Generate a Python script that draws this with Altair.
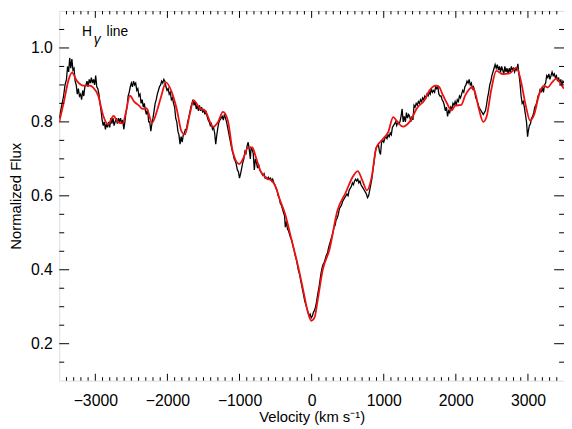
import altair as alt
import pandas as pd

obs_v = [-3500, -3480, -3460, -3440, -3420, -3400, -3385, -3370, -3355, -3340, -3325, -3310, -3295, -3280,
         -3265, -3250, -3235, -3220, -3205, -3190, -3175, -3160, -3145, -3130, -3115, -3100, -3085, -3070,
         -3055, -3040, -3025, -3010, -2995, -2980, -2965, -2950, -2935, -2920, -2905, -2890, -2875, -2860,
         -2845, -2830, -2815, -2800, -2785, -2770, -2755, -2740, -2725, -2710, -2695, -2680, -2665, -2650,
         -2635, -2620, -2605, -2590, -2575, -2560, -2545, -2530, -2515, -2500, -2485, -2470, -2455, -2440,
         -2425, -2410, -2395, -2380, -2365, -2350, -2335, -2320, -2305, -2290, -2275, -2260, -2245, -2230,
         -2215, -2200, -2185, -2170, -2155, -2140, -2125, -2110, -2095, -2080, -2065, -2050, -2035, -2020,
         -2005, -1990, -1975, -1960, -1945, -1930, -1915, -1900, -1885, -1870, -1855, -1840, -1825, -1810,
         -1795, -1780, -1765, -1750, -1735, -1720, -1705, -1690, -1675, -1660, -1645, -1630, -1615, -1600,
         -1585, -1570, -1555, -1540, -1525, -1510, -1495, -1480, -1465, -1450, -1435, -1420, -1405, -1390,
         -1375, -1360, -1345, -1330, -1315, -1300, -1285, -1270, -1255, -1240, -1225, -1210, -1195, -1180,
         -1165, -1150, -1135, -1120, -1105, -1090, -1075, -1060, -1045, -1030, -1015, -1000, -985, -970,
         -955, -940, -925, -910, -895, -880, -865, -850, -840, -825, -810, -795, -780, -765, -750, -735,
         -720, -705, -690, -675, -660, -645, -630, -615, -600, -585, -570, -555, -540, -525, -510, -495,
         -480, -465, -450, -435, -420, -405, -390, -375, -365, -350, -335, -320, -305, -290, -275, -260,
         -245, -230, -215, -200, -185, -170, -155, -140, -125, -110, -95, -80, -65, -50, -35, -20, -5, 10,
         25, 40, 55, 70, 85, 100, 115, 130, 145, 160, 175, 190, 205, 220, 235, 250, 265, 280, 295, 310,
         325, 340, 355, 370, 385, 400, 415, 430, 445, 460, 475, 490, 505, 520, 535, 550, 565, 580, 595,
         610, 625, 640, 655, 670, 685, 700, 715, 730, 745, 760, 775, 790, 805, 820, 835, 850, 865, 880,
         895, 910, 925, 940, 955, 970, 985, 1000, 1015, 1030, 1045, 1060, 1075, 1090, 1105, 1120, 1135,
         1150, 1165, 1180, 1195, 1210, 1225, 1240, 1255, 1270, 1285, 1300, 1315, 1330, 1345, 1360, 1375,
         1390, 1405, 1420, 1435, 1450, 1465, 1480, 1495, 1510, 1525, 1540, 1555, 1570, 1585, 1600, 1615,
         1630, 1645, 1660, 1675, 1690, 1705, 1720, 1735, 1750, 1765, 1780, 1795, 1810, 1825, 1840, 1855,
         1870, 1885, 1900, 1915, 1930, 1945, 1960, 1975, 1990, 2005, 2020, 2035, 2050, 2065, 2080, 2095,
         2110, 2125, 2140, 2155, 2170, 2185, 2200, 2215, 2230, 2245, 2260, 2275, 2290, 2305, 2320, 2335,
         2350, 2365, 2380, 2395, 2410, 2425, 2440, 2455, 2470, 2485, 2500, 2515, 2530, 2545, 2560, 2575,
         2590, 2605, 2620, 2635, 2650, 2665, 2680, 2695, 2710, 2725, 2740, 2755, 2770, 2785, 2800, 2815,
         2830, 2845, 2860, 2875, 2890, 2905, 2920, 2935, 2950, 2965, 2980, 2995, 3005, 3020, 3035, 3050,
         3065, 3080, 3095, 3110, 3125, 3140, 3155, 3170, 3185, 3200, 3215, 3230, 3245, 3260, 3275, 3290,
         3305, 3320, 3335, 3350, 3365, 3380, 3395, 3410, 3425, 3440, 3455, 3470, 3485, 3500]
obs_f = [0.810, 0.830, 0.850, 0.870, 0.900, 0.915, 0.950, 0.935, 0.973, 0.945, 0.970, 0.940, 0.945, 0.910,
         0.900, 0.875, 0.890, 0.870, 0.875, 0.860, 0.885, 0.870, 0.895, 0.900, 0.910, 0.895, 0.915, 0.905,
         0.920, 0.905, 0.915, 0.900, 0.925, 0.895, 0.890, 0.875, 0.850, 0.830, 0.805, 0.790, 0.800, 0.780,
         0.795, 0.785, 0.800, 0.785, 0.810, 0.795, 0.810, 0.790, 0.800, 0.810, 0.795, 0.810, 0.800, 0.810,
         0.795, 0.805, 0.780, 0.800, 0.825, 0.840, 0.870, 0.880, 0.895, 0.905, 0.895, 0.910, 0.900, 0.905,
         0.885, 0.890, 0.870, 0.875, 0.850, 0.860, 0.840, 0.850, 0.830, 0.820, 0.835, 0.800, 0.800, 0.775,
         0.795, 0.810, 0.830, 0.850, 0.860, 0.875, 0.885, 0.895, 0.900, 0.910, 0.905, 0.915, 0.910, 0.895,
         0.885, 0.890, 0.875, 0.880, 0.860, 0.865, 0.850, 0.840, 0.810, 0.800, 0.775, 0.765, 0.740, 0.760,
         0.745, 0.765, 0.770, 0.780, 0.780, 0.800, 0.810, 0.825, 0.840, 0.850, 0.860, 0.845, 0.855, 0.835,
         0.845, 0.830, 0.845, 0.830, 0.840, 0.825, 0.835, 0.820, 0.830, 0.815, 0.805, 0.800, 0.790, 0.795,
         0.780, 0.785, 0.770, 0.740, 0.765, 0.785, 0.800, 0.805, 0.810, 0.815, 0.805, 0.820, 0.810, 0.800,
         0.785, 0.770, 0.755, 0.740, 0.725, 0.715, 0.700, 0.695, 0.685, 0.670, 0.665, 0.648, 0.660, 0.675,
         0.690, 0.700, 0.720, 0.715, 0.735, 0.745, 0.725, 0.700, 0.730, 0.725, 0.715, 0.670, 0.700, 0.690,
         0.675, 0.685, 0.670, 0.665, 0.660, 0.655, 0.660, 0.648, 0.650, 0.645, 0.650, 0.645, 0.648, 0.640,
         0.645, 0.635, 0.630, 0.620, 0.615, 0.600, 0.595, 0.580, 0.575, 0.565, 0.555, 0.545, 0.515, 0.530,
         0.510, 0.505, 0.495, 0.485, 0.480, 0.465, 0.455, 0.440, 0.430, 0.415, 0.400, 0.390, 0.375, 0.360,
         0.345, 0.330, 0.315, 0.305, 0.295, 0.285, 0.275, 0.280, 0.270, 0.275, 0.285, 0.290, 0.300, 0.315,
         0.335, 0.350, 0.370, 0.390, 0.405, 0.415, 0.420, 0.430, 0.440, 0.445, 0.460, 0.470, 0.480, 0.490,
         0.500, 0.515, 0.520, 0.535, 0.540, 0.550, 0.565, 0.570, 0.575, 0.585, 0.590, 0.595, 0.600, 0.605,
         0.600, 0.615, 0.620, 0.625, 0.635, 0.630, 0.640, 0.645, 0.640, 0.645, 0.635, 0.640, 0.630, 0.625,
         0.620, 0.615, 0.610, 0.605, 0.595, 0.600, 0.615, 0.630, 0.645, 0.670, 0.690, 0.715, 0.730, 0.735,
         0.740, 0.720, 0.712, 0.745, 0.750, 0.745, 0.755, 0.760, 0.755, 0.765, 0.760, 0.770, 0.765, 0.785,
         0.790, 0.795, 0.800, 0.790, 0.800, 0.795, 0.800, 0.815, 0.835, 0.800, 0.815, 0.800, 0.825, 0.810,
         0.820, 0.815, 0.800, 0.815, 0.805, 0.845, 0.840, 0.850, 0.845, 0.855, 0.850, 0.860, 0.855, 0.865,
         0.860, 0.870, 0.865, 0.875, 0.870, 0.880, 0.875, 0.890, 0.880, 0.885, 0.880, 0.895, 0.890, 0.895,
         0.875, 0.870, 0.870, 0.860, 0.855, 0.845, 0.830, 0.840, 0.815, 0.830, 0.825, 0.840, 0.835, 0.850,
         0.845, 0.855, 0.845, 0.860, 0.855, 0.870, 0.865, 0.875, 0.885, 0.880, 0.895, 0.900, 0.910, 0.905,
         0.915, 0.900, 0.905, 0.890, 0.895, 0.885, 0.865, 0.860, 0.850, 0.840, 0.835, 0.830, 0.825, 0.820,
         0.825, 0.830, 0.845, 0.865, 0.880, 0.900, 0.910, 0.925, 0.935, 0.945, 0.955, 0.945, 0.955, 0.940,
         0.950, 0.935, 0.950, 0.940, 0.930, 0.950, 0.935, 0.945, 0.930, 0.945, 0.935, 0.950, 0.940, 0.945,
         0.935, 0.945, 0.940, 0.957, 0.930, 0.905, 0.870, 0.850, 0.855, 0.840, 0.820, 0.800, 0.760, 0.775,
         0.790, 0.795, 0.810, 0.815, 0.825, 0.840, 0.845, 0.855, 0.870, 0.875, 0.890, 0.880, 0.895, 0.880,
         0.900, 0.905, 0.925, 0.920, 0.930, 0.915, 0.925, 0.935, 0.925, 0.930, 0.920, 0.925, 0.910, 0.920,
         0.905, 0.915, 0.900, 0.910, 0.905]

# Model spectrum (red)
mod_v = [-3500, -3437, -3369, -3324, -3256, -3165, -3075, -3029, -2960, -2892, -2824, -2748, -2688,
         -2620, -2575, -2520, -2462, -2394, -2347, -2293, -2211, -2143, -2084, -2020, -1939, -1871,
         -1802, -1757, -1689, -1635, -1549, -1481, -1366, -1298, -1230, -1162, -1094, -1004, -936,
         -890, -822, -777, -708, -617, -549, -504, -436, -368, -277, -187, -119, -50, -4, 41, 86, 154,
         245, 358, 473, 563, 640, 699, 767, 835, 895, 995, 1063, 1131, 1189, 1267, 1358, 1471, 1563,
         1631, 1721, 1767, 1812, 1880, 1939, 1993, 2075, 2129, 2221, 2266, 2320, 2380, 2425, 2493,
         2561, 2653, 2743, 2843, 2902, 2970, 3029, 3083, 3151, 3219, 3274, 3334, 3392, 3470, 3500]
mod_f = [0.800, 0.853, 0.915, 0.933, 0.911, 0.898, 0.898, 0.893, 0.871, 0.818, 0.793, 0.816, 0.800,
         0.796, 0.827, 0.871, 0.855, 0.844, 0.835, 0.837, 0.798, 0.831, 0.871, 0.907, 0.880, 0.835,
         0.773, 0.766, 0.822, 0.858, 0.836, 0.831, 0.787, 0.800, 0.827, 0.804, 0.720, 0.686, 0.707,
         0.729, 0.731, 0.707, 0.667, 0.647, 0.640, 0.627, 0.587, 0.551, 0.480, 0.409, 0.347, 0.284,
         0.262, 0.271, 0.320, 0.400, 0.453, 0.560, 0.609, 0.649, 0.667, 0.644, 0.615, 0.653, 0.729,
         0.755, 0.773, 0.813, 0.800, 0.787, 0.800, 0.840, 0.858, 0.884, 0.898, 0.895, 0.876, 0.849,
         0.831, 0.844, 0.846, 0.871, 0.893, 0.880, 0.835, 0.800, 0.813, 0.889, 0.938, 0.929, 0.931,
         0.947, 0.911, 0.844, 0.804, 0.818, 0.871, 0.898, 0.893, 0.907, 0.917, 0.898, 0.890]

x_major = [-3000, -2000, -1000, 0, 1000, 2000, 3000]
x_minor = [v for v in range(-3400, 3500, 100) if v % 1000 != 0]
y_major = [0.2, 0.4, 0.6, 0.8, 1.0]
y_minor = [0.15, 0.25, 0.3, 0.35, 0.45, 0.5, 0.55, 0.65, 0.7, 0.75, 0.85, 0.9, 0.95, 1.05]

W, H = 512, 375
FONT = "Liberation Sans"

xs = alt.Scale(domain=[-3500, 3500], nice=False, zero=False)
ys = alt.Scale(domain=[0.1, 1.1], nice=False, zero=False)

AX_X = alt.Axis(values=x_major, format="d", ticks=False, grid=False, domain=False,
                labelPadding=12, titlePadding=1, labelFontSize=16, titleFontSize=15,
                labelFont=FONT, titleFont=FONT, titleFontWeight="normal",
                labelColor="black", titleColor="black")
AX_Y = alt.Axis(values=y_major, format=".1f", ticks=False, grid=False, domain=False,
                labelPadding=7, titlePadding=7, labelFontSize=16, titleFontSize=15,
                labelFont=FONT, titleFont=FONT, titleFontWeight="normal",
                labelColor="black", titleColor="black")
XT = "Velocity (km s⁻¹)"
YT = "Normalized Flux"

obs = pd.DataFrame({"v": obs_v, "f": obs_f})
mod = pd.DataFrame({"v": mod_v, "f": mod_f})

obs_line = alt.Chart(obs).mark_line(color="black", strokeWidth=1.3, clip=True).encode(
    x=alt.X("v:Q", scale=xs, title=XT, axis=AX_X),
    y=alt.Y("f:Q", scale=ys, title=YT, axis=AX_Y),
    order="v:Q",
)

model_line = alt.Chart(mod).mark_line(color="#ee1111", strokeWidth=1.8, interpolate="monotone",
                                      clip=True).encode(
    x=alt.X("v:Q", scale=xs, title=XT, axis=AX_X),
    y=alt.Y("f:Q", scale=ys, title=YT, axis=AX_Y),
    order="v:Q",
)

def xticks(vals, length):
    d = pd.DataFrame({"v": vals})
    b = alt.Chart(d).mark_rule(color="black", strokeWidth=1).encode(
        x=alt.X("v:Q", scale=xs, title=XT, axis=AX_X))
    return [b.encode(y=alt.value(H), y2=alt.value(H - length)),
            b.encode(y=alt.value(0), y2=alt.value(length))]

def yticks(vals, length):
    d = pd.DataFrame({"f": vals})
    b = alt.Chart(d).mark_rule(color="black", strokeWidth=1).encode(
        y=alt.Y("f:Q", scale=ys, title=YT, axis=AX_Y))
    return [b.encode(x=alt.value(0), x2=alt.value(length)),
            b.encode(x=alt.value(W), x2=alt.value(W - length))]

ticks = xticks(x_major, 7) + xticks(x_minor, 3.5) + yticks(y_major, 10) + yticks(y_minor, 5)

lab = pd.DataFrame({"s": ["H"]})
t_h = alt.Chart(lab).mark_text(text="H", font=FONT, fontSize=14, align="left", baseline="alphabetic",
                               color="black").encode(x=alt.value(23), y=alt.value(25))
t_g = alt.Chart(lab).mark_text(text="γ", font=FONT, fontSize=14, fontStyle="italic", align="left",
                               baseline="alphabetic", color="black").encode(x=alt.value(35), y=alt.value(33))
t_l = alt.Chart(lab).mark_text(text="line", font=FONT, fontSize=14, align="left", baseline="alphabetic",
                               color="black").encode(x=alt.value(48), y=alt.value(25))

chart = alt.layer(obs_line, model_line, *ticks, t_h, t_g, t_l).properties(
    width=W, height=H,
    autosize=alt.AutoSizeParams(type="none"),
    padding={"left": 52, "top": 0, "right": 0, "bottom": 46},
).configure_view(stroke="black", strokeWidth=1.2).configure(background="white")

chart.save("out.html", embed_options={"renderer": "svg", "actions": False})
